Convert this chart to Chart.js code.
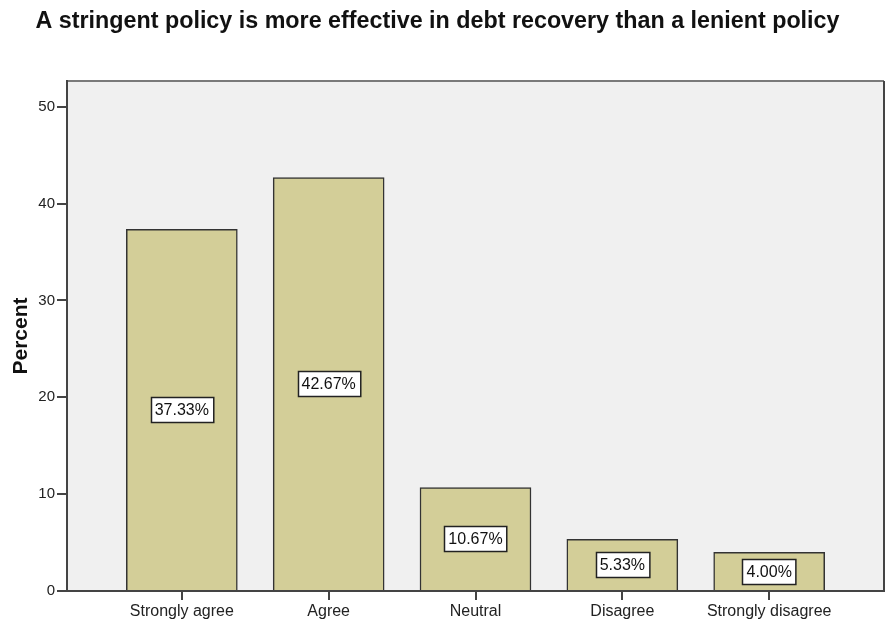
<!DOCTYPE html>
<html>
<head>
<meta charset="utf-8">
<script src="https://cdn.jsdelivr.net/npm/chart.js@4.4.1/dist/chart.umd.min.js"></script>
<style>
  html, body { margin: 0; padding: 0; background: #fff; }
  #wrap { width: 889px; height: 633px; position: relative; }
</style>
</head>
<body>
<div id="wrap"><canvas id="policyChart"></canvas></div>
<script>
// Survey responses
const chartTitle = 'A stringent policy is more effective in debt recovery than a lenient policy';
const categories = ['Strongly agree', 'Agree', 'Neutral', 'Disagree', 'Strongly disagree'];
const percents = [37.33, 42.67, 10.67, 5.33, 4.00];
const yTicks = [0, 10, 20, 30, 40, 50];

const FONT = '"Liberation Sans", Arial, sans-serif';

// Plot background, frame, title and the boxed value labels
const decorations = {
    id: 'decorations',
    beforeDraw(chart) {
        const { ctx, chartArea: a } = chart;
        ctx.save();
        ctx.fillStyle = '#f0f0f0';
        ctx.fillRect(a.left, a.top, a.right - a.left, a.bottom - a.top);
        ctx.strokeStyle = '#7a7a7a';
        ctx.lineWidth = 2;
        ctx.beginPath();
        ctx.moveTo(a.left, a.top);
        ctx.lineTo(a.right, a.top);
        ctx.stroke();
        ctx.strokeStyle = '#444';
        ctx.beginPath();
        ctx.moveTo(a.right, a.top);
        ctx.lineTo(a.right, a.bottom);
        ctx.stroke();

        ctx.fillStyle = '#111';
        ctx.font = 'bold 23.3px ' + FONT;
        ctx.textAlign = 'center';
        ctx.textBaseline = 'middle';
        ctx.fillText(chartTitle, 437.5, 22);
        ctx.restore();
    },
    afterDatasetsDraw(chart) {
        const { ctx } = chart;
        const meta = chart.getDatasetMeta(0);
        ctx.save();
        ctx.font = '16px ' + FONT;
        ctx.textAlign = 'center';
        ctx.textBaseline = 'middle';
        meta.data.forEach((bar, i) => {
            const text = percents[i].toFixed(2) + '%';
            const w = ctx.measureText(text).width + 8;
            const h = 25;
            const cy = (bar.y + bar.base) / 2;
            const x0 = Math.round(bar.x - w / 2) + 0.5;
            const y0 = Math.round(cy - h / 2) + 0.5;
            ctx.fillStyle = '#fff';
            ctx.fillRect(x0, y0, w, h);
            ctx.strokeStyle = '#222';
            ctx.lineWidth = 1.5;
            ctx.strokeRect(x0, y0, w, h);
            ctx.fillStyle = '#111';
            ctx.fillText(text, bar.x, cy + 1);
        });
        ctx.restore();
    }
};

const ctx = document.getElementById('policyChart').getContext('2d');
new Chart(ctx, {
    type: 'bar',
    data: {
        datasets: [{
            data: percents.map((v, i) => ({ x: i, y: v })),
            backgroundColor: '#d3ce98',
            borderColor: '#333',
            borderWidth: 1.5,
            borderSkipped: 'bottom',
            barThickness: 111
        }]
    },
    options: {
        responsive: true,
        maintainAspectRatio: false,
        animation: false,
        layout: { padding: { top: 81, right: 5, left: 0, bottom: 0 } },
        plugins: {
            legend: { display: false },
            tooltip: { enabled: false }
        },
        scales: {
            x: {
                type: 'linear',
                offset: false,
                min: -0.782,
                max: 4.782,
                afterBuildTicks: (scale) => { scale.ticks = categories.map((c, i) => ({ value: i })); },
                afterFit: (scale) => { scale.height = 42; },
                ticks: {
                    color: '#222',
                    font: { family: FONT, size: 16 },
                    padding: 2,
                    maxRotation: 0,
                    autoSkip: false,
                    callback: (v) => categories[v]
                },
                grid: { offset: false, drawOnChartArea: false, drawTicks: true, tickLength: 9, color: '#444', lineWidth: 2 },
                border: { display: true, color: '#444', width: 2 }
            },
            y: {
                min: 0,
                max: 52.65,
                afterBuildTicks: (scale) => { scale.ticks = yTicks.map(v => ({ value: v })); },
                afterFit: (scale) => { scale.width = 67; },
                ticks: {
                    color: '#222',
                    font: { family: FONT, size: 15 },
                    padding: 2
                },
                grid: { drawOnChartArea: false, drawTicks: true, tickLength: 10, color: '#444', lineWidth: 2 },
                border: { display: true, color: '#444', width: 2 },
                title: {
                    display: true,
                    text: 'Percent',
                    color: '#111',
                    font: { family: FONT, size: 21, weight: 'bold' },
                    padding: { top: 9, bottom: 0 }
                }
            }
        }
    },
    plugins: [decorations]
});
</script>
</body>
</html>
